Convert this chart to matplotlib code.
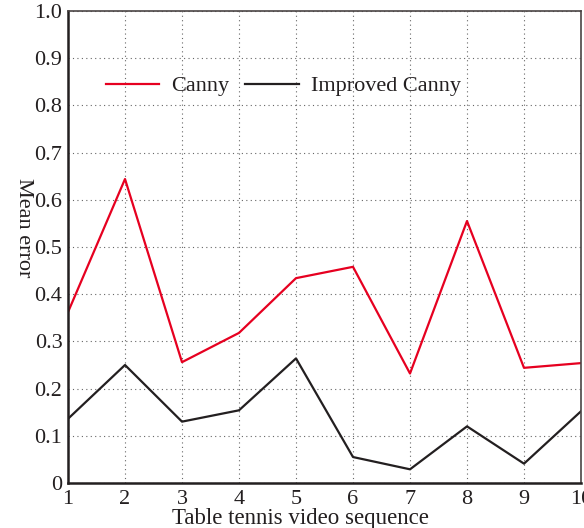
import numpy as np
import matplotlib.pyplot as plt

plt.rcParams['font.family'] = ['Liberation Serif', 'DejaVu Serif']

sequence = [1, 2, 3, 4, 5, 6, 7, 8, 9, 10]
canny = [0.362, 0.644, 0.256, 0.318, 0.434, 0.458, 0.232, 0.555, 0.244, 0.254]
improved = [0.136, 0.250, 0.130, 0.154, 0.264, 0.055, 0.029, 0.120, 0.041, 0.152]
y_ticks = [0, 0.1, 0.2, 0.3, 0.4, 0.5, 0.6, 0.7, 0.8, 0.9, 1.0]
y_labels = ['0', '0.1', '0.2', '0.3', '0.4', '0.5', '0.6', '0.7', '0.8', '0.9', '1.0']

fig = plt.figure(figsize=(5.84, 5.28), dpi=100)
ax = fig.add_axes([68 / 584, 1 - 483 / 528, (581 - 68) / 584, (483 - 11) / 528])

ax.plot(sequence, canny, color='#e60020', lw=1.6, label='Canny')
ax.plot(sequence, improved, color='#231f20', lw=1.6, label='Improved Canny')

ax.set_xlim(1, 10)
ax.set_ylim(0, 1.0)
ax.set_xticks(sequence)
ax.set_yticks(y_ticks)
ax.set_yticklabels(y_labels)
ax.tick_params(length=0, labelsize=16, colors='#231f20')
ax.tick_params(axis='x', pad=5)
ax.tick_params(axis='y', pad=4)
ax.grid(True, ls=(0, (1, 3)), color='#666666', lw=0.8)

for side in ['left', 'bottom']:
    ax.spines[side].set_linewidth(1.8)
    ax.spines[side].set_color('#231f20')
for side in ['top', 'right']:
    ax.spines[side].set_linewidth(1.2)
    ax.spines[side].set_color('#4a4444')

ax.set_xlabel('Table tennis video sequence', fontsize=16.5, color='#231f20', labelpad=0)
ax.xaxis.set_label_coords(0.454, -0.054, transform=ax.transAxes)
ax.xaxis.label.set_va('top')
ax.set_ylabel('Mean error', fontsize=16, color='#231f20', rotation=270)
ax.yaxis.set_label_coords(-0.105, 0.54)

ax.legend(loc='upper left', bbox_to_anchor=(0.035, 0.905), ncol=2, frameon=False,
          fontsize=16, handlelength=2.4, columnspacing=0.7, handletextpad=0.55,
          labelcolor='#231f20')

fig.savefig('out.png', dpi=100)
